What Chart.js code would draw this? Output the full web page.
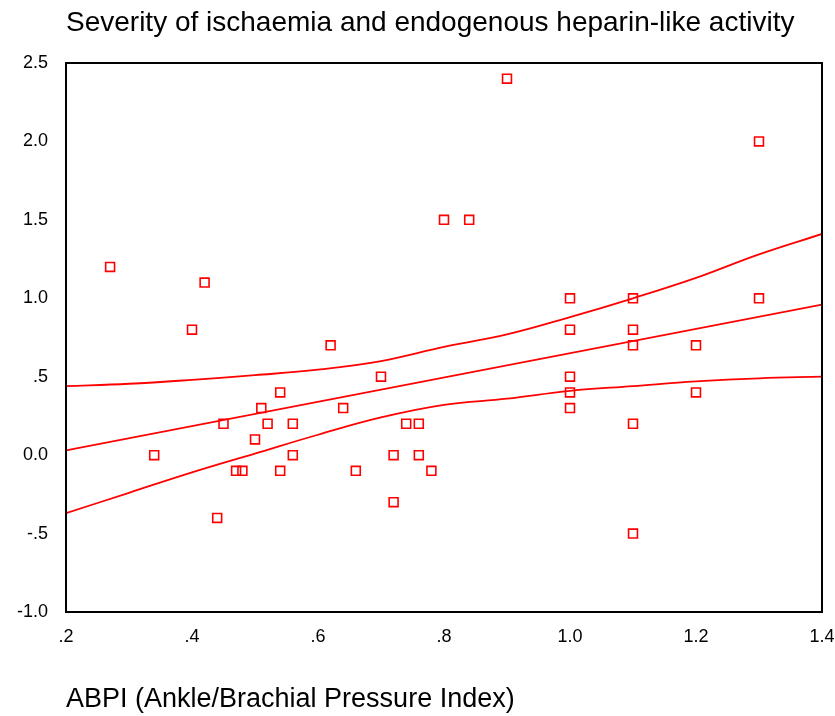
<!DOCTYPE html>
<html>
<head>
<meta charset="utf-8">
<title>Severity of ischaemia and endogenous heparin-like activity</title>
<script src="https://cdn.jsdelivr.net/npm/chart.js"></script>
<style>
  html, body { margin: 0; padding: 0; background: #fff; }
  #wrap { width: 835px; height: 716px; }
</style>
</head>
<body>
<div id="wrap"><canvas id="ischaemiaChart" width="835" height="716"></canvas></div>
<script>
// observed cases: ABPI vs heparin-like activity
const abpi = [0.27, 0.42, 0.40, 0.34, 0.44, 0.45, 0.47, 0.48, 0.50, 0.51, 0.52, 0.54, 0.54, 0.56, 0.56,
  0.62, 0.64, 0.66, 0.70, 0.72, 0.72, 0.74, 0.76, 0.76, 0.78, 0.80, 0.84, 0.90,
  1.0, 1.0, 1.0, 1.0, 1.0, 1.1, 1.1, 1.1, 1.1, 1.1, 1.2, 1.2, 1.3, 1.3];
const activity = [1.2, 1.1, 0.8, 0.0, -0.4, 0.2, -0.1, -0.1, 0.1, 0.3, 0.2, 0.4, -0.1, 0.2, 0.0,
  0.7, 0.3, -0.1, 0.5, 0.0, -0.3, 0.2, 0.2, 0.0, -0.1, 1.5, 1.5, 2.4,
  1.0, 0.8, 0.5, 0.4, 0.3, 1.0, 0.8, 0.7, 0.2, -0.5, 0.7, 0.4, 2.0, 1.0];

// fitted line and 95% CI bands
const fitX = [0.2, 1.4];
const fitY = [0.03, 0.96];
const bandX = [0.2, 0.3, 0.4, 0.5, 0.6, 0.7, 0.8, 0.9, 1.0, 1.1, 1.2, 1.3, 1.4];
const upperCI = [0.44, 0.455, 0.48, 0.51, 0.545, 0.60, 0.69, 0.77, 0.88, 1.0, 1.13, 1.28, 1.41];
const lowerCI = [-0.37, -0.24, -0.11, 0.01, 0.13, 0.24, 0.32, 0.36, 0.41, 0.44, 0.47, 0.49, 0.50];

// tick labels
const xTicks = [0.2, 0.4, 0.6, 0.8, 1.0, 1.2, 1.4];
const xTickLabels = ['.2', '.4', '.6', '.8', '1.0', '1.2', '1.4'];
const yTicks = [-1.0, -0.5, 0.0, 0.5, 1.0, 1.5, 2.0, 2.5];
const yTickLabels = ['-1.0', '-.5', '0.0', '.5', '1.0', '1.5', '2.0', '2.5'];

const RED = '#ff0000';
const FONT = "'Liberation Sans', Arial, sans-serif";

const toPoints = (xs, ys) => xs.map((x, i) => ({ x: x, y: ys[i] }));
const labelFor = (ticks, labels) => value => {
  const i = ticks.findIndex(t => Math.abs(t - value) < 1e-6);
  return i >= 0 ? labels[i] : '';
};

// box round the plot area
const frame = {
  id: 'frame',
  afterDraw(chart) {
    const a = chart.chartArea;
    const ctx = chart.ctx;
    ctx.save();
    ctx.strokeStyle = '#000';
    ctx.lineWidth = 2;
    ctx.strokeRect(a.left, a.top, a.right - a.left, a.bottom - a.top);
    ctx.restore();
  }
};

const lineSet = (data, tension) => ({
  type: 'line',
  data: data,
  borderColor: RED,
  borderWidth: 1.8,
  pointRadius: 0,
  fill: false,
  tension: tension
});

const ctx = document.getElementById('ischaemiaChart').getContext('2d');
new Chart(ctx, {
  type: 'scatter',
  data: {
    datasets: [
      {
        data: toPoints(abpi, activity),
        pointStyle: 'rect',
        pointRadius: 6.3,
        pointBorderWidth: 1.6,
        borderColor: RED,
        backgroundColor: 'rgba(255,255,255,0)'
      },
      lineSet(toPoints(fitX, fitY), 0),
      lineSet(toPoints(bandX, upperCI), 0.4),
      lineSet(toPoints(bandX, lowerCI), 0.4)
    ]
  },
  options: {
    responsive: false,
    animation: false,
    layout: { padding: 0 },
    plugins: {
      legend: { display: false },
      tooltip: { enabled: false },
      title: {
        display: true,
        fullSize: false,
        text: 'Severity of ischaemia and endogenous heparin-like activity',
        align: 'start',
        color: '#000',
        font: { family: FONT, size: 28, weight: 'normal' },
        padding: { top: 6, bottom: 23.4 }
      }
    },
    scales: {
      x: {
        type: 'linear',
        min: 0.2,
        max: 1.4,
        afterBuildTicks: s => { s.ticks = xTicks.map(v => ({ value: v })); },
        afterFit: s => {
          s.height = 104;
          s.paddingLeft = 0;
          s.paddingRight = 13;
        },
        grid: { display: false, drawTicks: false },
        border: { display: false },
        ticks: {
          color: '#000',
          padding: 14,
          maxRotation: 0,
          font: { family: FONT, size: 18 },
          callback: labelFor(xTicks, xTickLabels)
        },
        title: {
          display: true,
          text: 'ABPI (Ankle/Brachial Pressure Index)',
          align: 'start',
          color: '#000',
          font: { family: FONT, size: 27 },
          padding: { top: 0, bottom: 0 }
        }
      },
      y: {
        type: 'linear',
        min: -1.0,
        max: 2.5,
        afterBuildTicks: s => { s.ticks = yTicks.map(v => ({ value: v })); },
        afterFit: s => { s.width = 66; },
        grid: { display: false, drawTicks: false },
        border: { display: false },
        ticks: {
          color: '#000',
          padding: 18,
          font: { family: FONT, size: 18 },
          callback: labelFor(yTicks, yTickLabels)
        }
      }
    }
  },
  plugins: [frame]
});
</script>
</body>
</html>
